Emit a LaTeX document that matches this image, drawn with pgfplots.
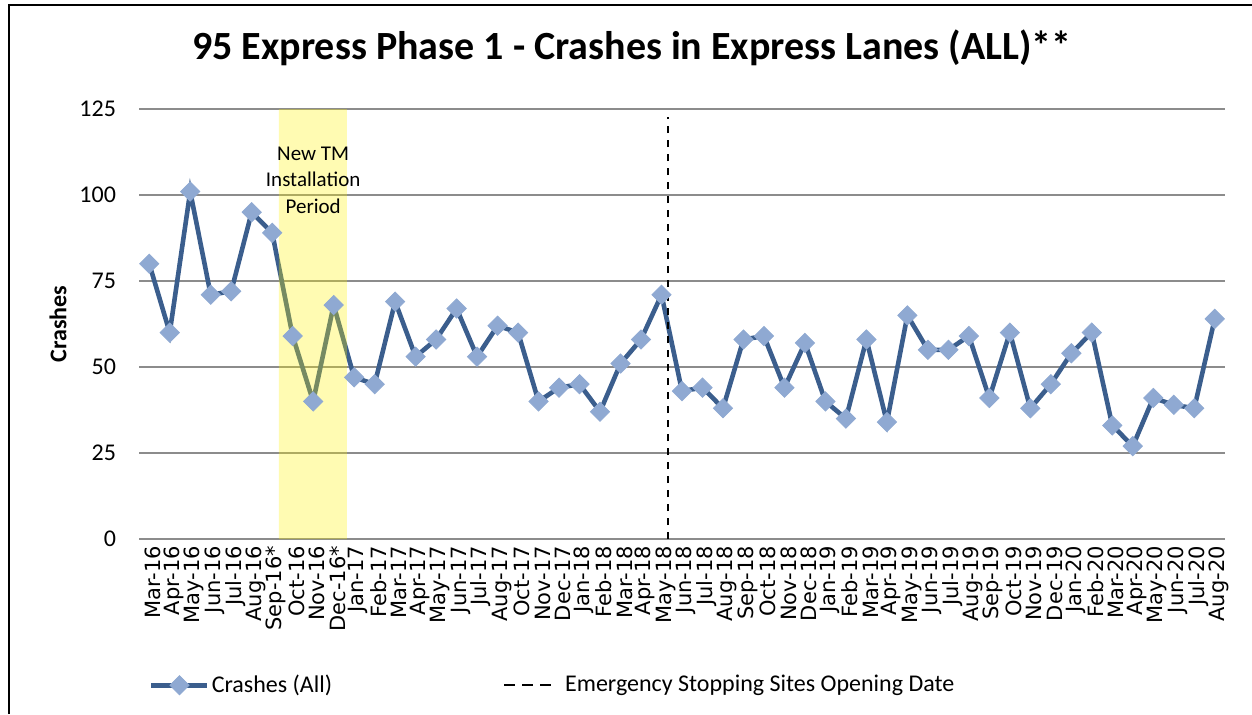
\documentclass[border=0pt]{standalone}
\usepackage{pgfplots}
\pgfplotsset{compat=1.18}
\usepackage{fontspec}
\setmainfont{Carlito}
\newfontfamily\dejavu{DejaVu Sans}
\definecolor{lineblue}{HTML}{3B5E8D}
\definecolor{markerblue}{HTML}{8FA9D2}
\definecolor{gridgray}{HTML}{8C8C8C}
\pgfplotsset{
  legA/.style={legend image code/.code={\draw[mark repeat=2,mark phase=2,##1] plot coordinates {(0pt,0pt) (14pt,0pt) (28pt,0pt)};}},
  legB/.style={legend image code/.code={\draw[black, line width=1pt, dash pattern=on 5.5pt off 3.5pt] (0pt,0pt) -- (24pt,0pt); \path[draw=none, fill=none] (24pt,0pt) -- (29.5pt,0pt);}},
}
\begin{document}
\begin{tikzpicture}
\path[use as bounding box] (0,0) rectangle (626pt,357pt);
\draw[line width=1pt] (4.25pt,0) -- (4.25pt,354.25pt) -- (626pt,354.25pt);
\node[font=\bfseries\fontsize{20}{22}\selectfont] at (316pt,333pt) {95 Express Phase 1 - Crashes in Express Lanes (ALL)**};
\begin{axis}[
  at={(69.5pt,87.5pt)}, anchor=south west,
  scale only axis, width=543pt, height=215pt,
  xmin=-0.5, xmax=52.5, ymin=0, ymax=125,
  clip=false,
  axis line style={draw=none},
  major tick length=0pt,
  ytick={0,25,50,75,100,125},
  ymajorgrids,
  grid style={gridgray, line width=0.9pt},
  /pgf/number format/assume math mode=true,
  yticklabel style={font=\fontsize{12}{14}\selectfont, xshift=-8pt},
  xtick={0,...,52},
  xticklabels={Mar-16,Apr-16,May-16,Jun-16,Jul-16,Aug-16,Sep-16*,Oct-16,Nov-16,Dec-16*,Jan-17,Feb-17,Mar-17,Apr-17,May-17,Jun-17,Jul-17,Aug-17,Oct-17,Nov-17,Dec-17,Jan-18,Feb-18,Mar-18,Apr-18,May-18,Jun-18,Jul-18,Aug-18,Sep-18,Oct-18,Nov-18,Dec-18,Jan-19,Feb-19,Mar-19,Apr-19,May-19,Jun-19,Jul-19,Aug-19,Sep-19,Oct-19,Nov-19,Dec-19,Jan-20,Feb-20,Mar-20,Apr-20,May-20,Jun-20,Jul-20,Aug-20},
  xticklabel style={font=\dejavu\fontsize{10.5}{12}\selectfont, rotate=90, anchor=east, yshift=-2pt},
  ylabel={Crashes},
  every axis y label/.style={at={(axis description cs:-0.0746,0.5)}, rotate=90, anchor=center, font=\bfseries\fontsize{12}{14}\selectfont},
  legend style={at={(axis description cs:0.009,-0.34)}, anchor=west, draw=none, fill=none, legend columns=2, font=\fontsize{12}{14}\selectfont, inner sep=0pt, nodes={inner sep=1pt}, /tikz/every even column/.append style={column sep=84.5pt}},
  legend cell align=left,
]
\addplot[lineblue, line width=2.3pt, mark=square*, mark size=3.4pt, mark options={rotate=45, fill=markerblue, draw=markerblue, line width=0.4pt, solid}, legA]
coordinates {
(0,80)(1,60)(2,101)(3,71)(4,72)(5,95)(6,89)(7,59)(8,40)(9,68)
(10,47)(11,45)(12,69)(13,53)(14,58)(15,67)(16,53)(17,62)(18,60)(19,40)
(20,44)(21,45)(22,37)(23,51)(24,58)(25,71)(26,43)(27,44)(28,38)(29,58)
(30,59)(31,44)(32,57)(33,40)(34,35)(35,58)(36,34)(37,65)(38,55)(39,55)
(40,59)(41,41)(42,60)(43,38)(44,45)(45,54)(46,60)(47,33)(48,27)(49,41)
(50,39)(51,38)(52,64)
};
\addlegendentry{Crashes (All)}
\addplot[draw=none, fill=yellow, fill opacity=0.3, forget plot] coordinates {(6.33,0) (6.33,125) (9.65,125) (9.65,0)} \closedcycle;
\addplot[black, line width=1pt, dash pattern=on 3.65pt off 3.35pt, legB]
  coordinates {(25.3,0) (25.3,122.7)};
\addlegendentry{Emergency Stopping Sites Opening Date}
\node[align=center, font=\fontsize{10.5}{13.25}\selectfont] at (axis cs:8,104.4) {New TM\\Installation\\Period};
\end{axis}
\end{tikzpicture}
\end{document}
